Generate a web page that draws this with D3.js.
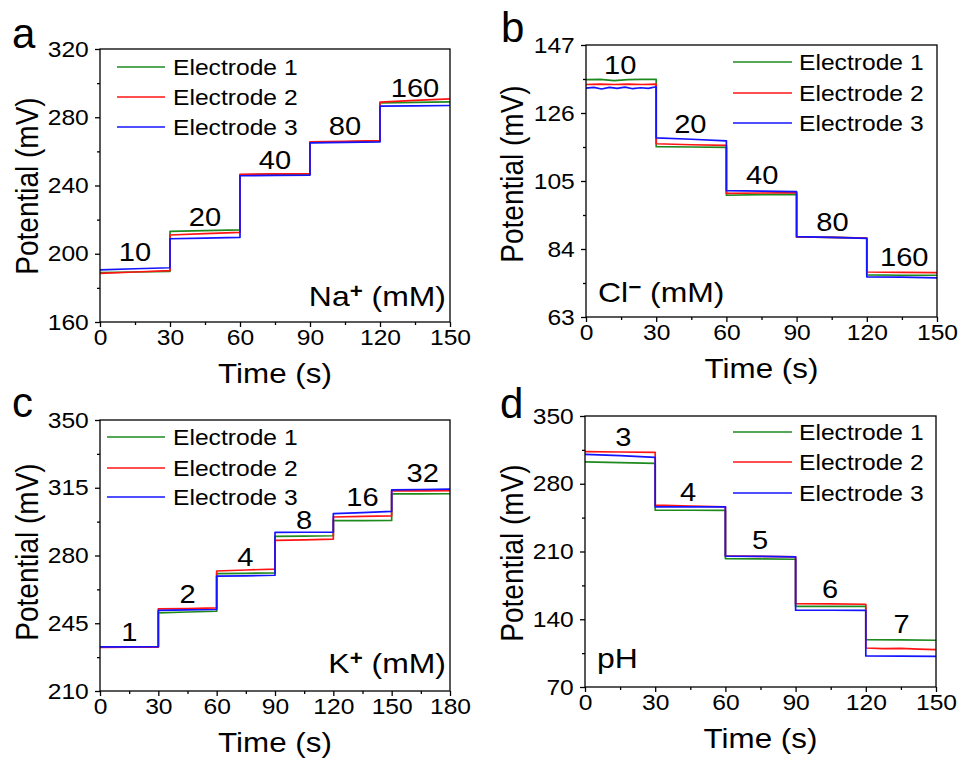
<!DOCTYPE html>
<html>
<head>
<meta charset="utf-8">
<script src="https://cdn.jsdelivr.net/npm/d3@7"></script>
<style>
  body { margin: 0; background: #fff; }
  svg { display: block; }
  text { font-family: "Liberation Sans", Arial, sans-serif; fill: #000; }
</style>
</head>
<body>
<svg id="fig" width="963" height="763"></svg>
<script>
// ---------- data ----------
const seriesNames = ["Electrode 1", "Electrode 2", "Electrode 3"];

// Na+ calibration: each inner array is the potential (mV) sampled across one 30 s step
const naTimes = [0, 30, 60, 90, 120, 150];
const naLevels = ["10", "20", "40", "80", "160"];
const naE1 = [[188.9, 189.3, 189.7], [213.1, 213.5, 214.0], [246.3, 246.5, 246.7], [265.3, 265.6, 266.0], [288.4, 288.7, 289.0]];
const naE2 = [[188.5, 189.3, 190.1], [211.0, 211.8, 212.5], [246.6, 246.8, 247.0], [265.6, 265.9, 266.3], [288.9, 289.9, 290.8]];
const naE3 = [[190.6, 191.2, 191.8], [208.8, 209.2, 209.6], [245.7, 245.9, 246.1], [265.0, 265.3, 265.6], [286.5, 286.7, 286.9]];
const naYTicks = [160, 200, 240, 280, 320];

// Cl- calibration
const clTimes = [0, 30, 60, 90, 120, 150];
const clLevels = ["10", "20", "40", "80", "160"];
const clE1 = [[136.3, 136.4, 136.0, 136.3, 136.4, 136.4], [115.6, 115.5, 115.4], [100.6, 100.8, 100.9], [87.7, 87.6, 87.4], [76.0, 75.9, 75.9]];
const clE2 = [[134.8, 134.9, 134.8, 134.9, 134.8, 134.9], [116.5, 116.2, 116.0], [101.2, 101.3, 101.4], [87.7, 87.6, 87.4], [76.9, 76.8, 76.7]];
const clE3 = [[133.7, 133.9, 133.4, 133.9, 133.6, 134.0, 133.5, 133.8, 133.6, 134.1], [118.3, 117.9, 117.4], [102.0, 101.9, 101.7], [87.8, 87.6, 87.3], [75.4, 75.3, 75.1]];
const clYTicks = [63, 84, 105, 126, 147];

// K+ calibration
const kTimes = [0, 30, 60, 90, 120, 150, 180];
const kLevels = ["1", "2", "4", "8", "16", "32"];
const kE1 = [[232.6, 232.7, 232.8], [250.4, 250.8, 251.2], [270.6, 270.8, 271.0], [289.9, 290.0, 290.2], [298.0, 298.0, 298.1], [311.9, 311.8, 311.9]];
const kE2 = [[232.5, 232.6, 232.7], [252.4, 252.6, 252.9], [272.0, 272.5, 273.0], [287.8, 288.1, 288.5], [299.9, 300.2, 300.5], [313.4, 313.4, 313.5]];
const kE3 = [[232.8, 232.8, 232.9], [251.6, 251.9, 252.1], [269.3, 269.5, 269.8], [291.9, 292.0, 292.1], [301.6, 302.2, 302.8], [313.9, 314.1, 314.3]];
const kYTicks = [210, 245, 280, 315, 350];

// pH calibration
const phTimes = [0, 30, 60, 90, 120, 150];
const phLevels = ["3", "4", "5", "6", "7"];
const phE1 = [[302.7, 301.8, 301.0], [252.7, 252.6, 252.5], [202.7, 202.3, 202.0], [153.4, 153.3, 153.2], [119.0, 118.7, 118.3]];
const phE2 = [[313.1, 312.8, 312.4], [257.9, 257.0, 256.2], [205.5, 205.0, 204.5], [156.2, 155.9, 155.5], [110.3, 109.6, 110.0, 109.1, 108.6]];
const phE3 = [[310.3, 309.0, 307.2], [256.2, 256.2, 256.2], [205.3, 204.9, 204.5], [149.3, 149.3, 149.2], [102.1, 101.9, 101.7]];
const phYTicks = [70, 140, 210, 280, 350];

const time30 = [0, 30, 60, 90, 120, 150];
const time180 = [0, 30, 60, 90, 120, 150, 180];

// ---------- styling / layout ----------
const colors = ["#1e8a1e", "#ff1414", "#1414ff"];
const SX = 1.12;            // horizontal stretch used for all lettering
const TICK_FS = 22, TITLE_FS = 28, LEG_FS = 22, ANN_FS = 26, TAG_FS = 28.5;

const panels = [
  { tag: "a", tagXY: [12, 48], box: { l: 100, r: 450, t: 49, b: 322 },
    times: naTimes, xTicks: time30, yTicks: naYTicks, series: [naE1, naE2, naE3],
    levels: naLevels, levelAt: [[15, 201], [45, 222], [75, 255], [105, 275], [135, 297.5]],
    ion: { parts: [["Na"], ["+", true], [" (mM)"]], x: 446, y: 306, anchor: "end" },
    legend: { x1: 117, x2: 165, tx: 173, rows: [67, 97, 127] },
    yTitle: [27, 186] },
  { tag: "b", tagXY: [501, 42], box: { l: 586, r: 937, t: 45, b: 317 },
    times: clTimes, xTicks: time30, yTicks: clYTicks, series: [clE1, clE2, clE3],
    levels: clLevels, levelAt: [[14.6, 140.8], [44.6, 122.8], [75.3, 107], [105.3, 92.4], [136, 81.6]],
    ion: { parts: [["Cl"], ["\u2212", true], [" (mM)"]], x: 598, y: 302, anchor: "start" },
    legend: { x1: 733, x2: 792, tx: 799, rows: [62, 93, 123] },
    yTitle: [512, 174] },
  { tag: "c", tagXY: [12, 417], box: { l: 100, r: 450, t: 420, b: 691 },
    times: kTimes, xTicks: time180, yTicks: kYTicks, series: [kE1, kE2, kE3],
    levels: kLevels, levelAt: [[15.1, 240.9], [45, 260.2], [74.8, 279.6], [104.9, 298.5], [135, 310.2], [166, 322.6]],
    ion: { parts: [["K"], ["+", true], [" (mM)"]], x: 446, y: 673, anchor: "end" },
    legend: { x1: 107, x2: 165, tx: 173, rows: [437, 468, 497] },
    yTitle: [27, 552] },
  { tag: "d", tagXY: [500, 418], box: { l: 585, r: 936, t: 416, b: 687 },
    times: phTimes, xTicks: time30, yTicks: phYTicks, series: [phE1, phE2, phE3],
    levels: phLevels, levelAt: [[16.4, 328.6], [44.1, 271.7], [74.8, 221.8], [104.7, 171.8], [135.3, 135.6]],
    ion: { parts: [["pH"]], x: 597, y: 668, anchor: "start" },
    legend: { x1: 733, x2: 792, tx: 799, rows: [432, 462, 493] },
    yTitle: [512, 553] }
];

const svg = d3.select("#fig");

// text helper: horizontally stretched lettering, optional rotation and superscripts
function addText(parent, x, y, parts, size, anchor, rotate) {
  const t = parent.append("text")
    .attr("transform", rotate
      ? `translate(${x},${y}) rotate(-90) scale(1,${SX})`
      : `translate(${x},${y}) scale(${SX},1)`)
    .attr("font-size", size)
    .attr("text-anchor", anchor || "start");
  parts.forEach(([s, sup]) => {
    const sp = t.append("tspan").text(s);
    if (sup) sp.attr("font-size", size * 0.7).attr("baseline-shift", "40%").attr("font-weight", "bold");
  });
  return t;
}

function midTicks(arr) {
  const out = [];
  for (let i = 0; i < arr.length - 1; i++) out.push((arr[i] + arr[i + 1]) / 2);
  return out;
}

panels.forEach(p => {
  const g = svg.append("g");
  const xs = d3.scaleLinear().domain([p.xTicks[0], p.xTicks[p.xTicks.length - 1]]).range([p.box.l, p.box.r]);
  const ys = d3.scaleLinear().domain([p.yTicks[0], p.yTicks[p.yTicks.length - 1]]).range([p.box.b, p.box.t]);

  // step traces
  const line = d3.line().x(d => xs(d[0])).y(d => ys(d[1]));
  p.series.forEach((segs, i) => {
    const pts = [];
    segs.forEach((vals, k) => {
      const t0 = p.times[k], t1 = p.times[k + 1];
      vals.forEach((v, j) => pts.push([t0 + (t1 - t0) * j / (vals.length - 1), v]));
    });
    g.append("path").datum(pts).attr("d", line)
      .attr("fill", "none").attr("stroke", colors[i]).attr("stroke-width", 1.7)
      .attr("stroke-linejoin", "round");
  });

  // axes (major + minor ticks, outward)
  const styleAxis = sel => {
    sel.select(".domain").remove();
    sel.selectAll("line").attr("stroke", "#000").attr("stroke-width", 1.3);
  };
  g.append("g").attr("transform", `translate(0,${p.box.b})`)
    .call(d3.axisBottom(xs).tickValues(midTicks(p.xTicks)).tickSize(3).tickFormat(""))
    .call(styleAxis);
  g.append("g").attr("transform", `translate(${p.box.l},0)`)
    .call(d3.axisLeft(ys).tickValues(midTicks(p.yTicks)).tickSize(3).tickFormat(""))
    .call(styleAxis);
  const xa = g.append("g").attr("transform", `translate(0,${p.box.b})`)
    .call(d3.axisBottom(xs).tickValues(p.xTicks).tickSize(5).tickPadding(2).tickFormat(d3.format("d")))
    .call(styleAxis);
  xa.attr("font-size", TICK_FS).attr("font-family", "Liberation Sans, Arial, sans-serif");
  xa.selectAll("text").attr("fill", "#000").attr("transform", `scale(${SX},1)`);
  const ya = g.append("g").attr("transform", `translate(${p.box.l},0)`)
    .call(d3.axisLeft(ys).tickValues(p.yTicks).tickSize(5).tickPadding(5).tickFormat(d3.format("d")))
    .call(styleAxis);
  ya.attr("font-size", TICK_FS).attr("font-family", "Liberation Sans, Arial, sans-serif");
  ya.selectAll("text").attr("fill", "#000").attr("transform", `scale(${SX},1)`);

  // frame
  g.append("rect").attr("x", p.box.l).attr("y", p.box.t)
    .attr("width", p.box.r - p.box.l).attr("height", p.box.b - p.box.t)
    .attr("fill", "none").attr("stroke", "#000").attr("stroke-width", 1.3);

  // step annotations
  p.levels.forEach((lab, i) => {
    const [t, v] = p.levelAt[i];
    addText(g, xs(t), ys(v), [[lab]], ANN_FS, "middle").attr("dy", "0.36em");
  });

  // ion label
  addText(g, p.ion.x, p.ion.y, p.ion.parts, TAG_FS, p.ion.anchor);

  // legend
  seriesNames.forEach((name, i) => {
    const yy = p.legend.rows[i];
    g.append("line").attr("x1", p.legend.x1).attr("x2", p.legend.x2)
      .attr("y1", yy).attr("y2", yy).attr("stroke", colors[i]).attr("stroke-width", 1.7);
    addText(g, p.legend.tx, yy, [[name]], LEG_FS, "start").attr("dy", "0.36em");
  });

  // axis titles
  addText(g, (p.box.l + p.box.r) / 2, p.box.b + 61, [["Time (s)"]], TITLE_FS, "middle");
  addText(g, p.yTitle[0], p.yTitle[1], [["Potential (mV)"]], TITLE_FS, "middle", true).attr("dy", "0.36em");

  // panel tag
  svg.append("text").attr("x", p.tagXY[0]).attr("y", p.tagXY[1])
    .attr("font-size", 42).text(p.tag);
});
</script>
</body>
</html>
